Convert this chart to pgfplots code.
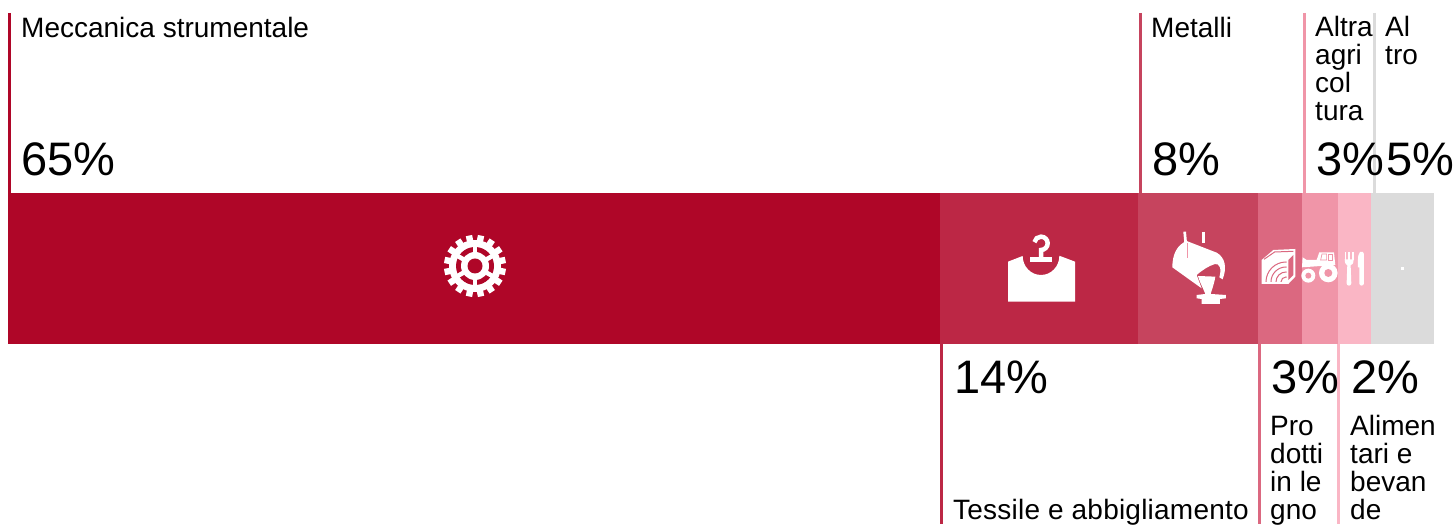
\documentclass[border=0pt]{standalone}
\usepackage{pgfplots}
\pgfplotsset{compat=1.18}
\usepackage{fontspec}
\setmainfont{Liberation Sans}
\definecolor{c1}{HTML}{AF0628}
\definecolor{c2}{HTML}{BC2745}
\definecolor{c3}{HTML}{C6445E}
\definecolor{c4}{HTML}{DB6880}
\definecolor{c5}{HTML}{F095A8}
\definecolor{c6}{HTML}{FAB6C5}
\definecolor{c7}{HTML}{DBDBDB}
\newcommand{\pct}[3]{\node[anchor=base west,inner sep=0pt,font=\fontsize{47}{47}\selectfont] at (axis cs:#1,#2) {#3};}
\newcommand{\lab}[3]{\node[anchor=base west,inner sep=0pt,align=left,font=\fontsize{28}{28}\selectfont] at (axis cs:#1,#2) {#3};}
\begin{document}
\begin{tikzpicture}[x=1pt,y=1pt]
\path[use as bounding box] (0,0) rectangle (1455,526);
\begin{axis}[at={(0,0)},anchor=south west,scale only axis,width=1455pt,height=526pt,hide axis,
  xbar stacked,bar width=151pt,xmin=-0.561,xmax=101.47,ymin=0,ymax=526,y dir=reverse]
\addplot[fill=c1,draw=none] coordinates {(65.36,268.5)};
\addplot[fill=c2,draw=none] coordinates {(13.88,268.5)};
\addplot[fill=c3,draw=none] coordinates {(8.42,268.5)};
\addplot[fill=c4,draw=none] coordinates {(3.05,268.5)};
\addplot[fill=c5,draw=none] coordinates {(2.52,268.5)};
\addplot[fill=c6,draw=none] coordinates {(2.38,268.5)};
\addplot[fill=c7,draw=none] coordinates {(4.39,268.5)};
\end{axis}
\begin{axis}[at={(0,0)},anchor=south west,scale only axis,width=1455pt,height=526pt,hide axis,
  xmin=0,xmax=1455,ymin=0,ymax=526,y dir=reverse,clip=false]
\addplot[c1,line width=3pt] coordinates {(9.5,13)(9.5,193)};
\addplot[c3,line width=3pt] coordinates {(1140.5,13)(1140.5,193)};
\addplot[c5,line width=3pt] coordinates {(1304.5,13)(1304.5,193)};
\addplot[c7,line width=3pt] coordinates {(1374.5,13)(1374.5,193)};
\addplot[c2,line width=3pt] coordinates {(941.5,344)(941.5,524)};
\addplot[c4,line width=3pt] coordinates {(1259.5,344)(1259.5,524)};
\addplot[c6,line width=3pt] coordinates {(1338.5,344)(1338.5,524)};
\lab{21}{38}{Meccanica strumentale}
\pct{21}{176}{65\%}
\lab{1151}{38}{Metalli}
\pct{1152}{176}{8\%}
\lab{1315}{121}{Altra\\agri\\col\\tura}
\pct{1316}{176}{3\%}
\lab{1385}{65}{Al\\tro}
\pct{1386}{176}{5\%}
\pct{954}{393}{14\%}
\lab{953}{519}{\addfontfeature{LetterSpace=0.8}Tessile e abbigliamento}
\pct{1271}{393}{3\%}
\lab{1270}{519}{Pro\\dotti\\in le\\gno}
\pct{1351}{393}{2\%}
\lab{1350}{519}{Alimen\\tari e\\bevan\\de}
\end{axis}
% gear
\begin{scope}[shift={(475,260)}]
\foreach \a in {0,22.5,...,337.5}{\fill[white,rotate=\a+11.25] (-3.2,0) rectangle (3.2,31);}
\fill[white] (0,0) circle (26);
\fill[c1] (0,0) circle (19);
\foreach \a in {30,90,150}{\draw[white,line width=4.5pt] (\a:-20)--(\a:20);}
\fill[white] (0,0) circle (14);
\fill[c1] (0,0) circle (7.5);
\end{scope}
% icons, in coordinates of a 3x magnified crop
\begin{scope}[shift={(930,346)},x=0.3333pt,y=-0.3333pt]
% shirt on hanger
\fill[white] (234,245)--(278,228) arc[start angle=180,end angle=0,x radius=55,y radius=57]--(390,228)--(435,245)--(435,365)--(234,365)--cycle;
\fill[white] (300,232) rectangle (366,247);
\draw[white,line width=4.5pt] (333,240)--(333,210) arc[start angle=90,end angle=-170,radius=20];
% ladle
\draw[white,line width=2.7pt] (764,155)--(768,200);
\draw[white,line width=2.7pt] (820,155)--(820,190);
\fill[white] (727,262) .. controls (727,225) and (740,195) .. (770,183)--(860,218) .. controls (885,232) and (892,262) .. (878,298)--(868,292) .. controls (876,265) and (868,250) .. (855,252) .. controls (835,258) and (815,272) .. (800,285)--(815,325)--cycle;
\fill[c5] (771,190) rectangle (775,235);
\fill[white] (804,288)--(856,290) .. controls (852,315) and (845,330) .. (842,342)--(888,345)--(888,355)--(870,357)--(870,372)--(815,372)--(815,357)--(800,355)--(800,345)--(826,342) .. controls (820,325) and (810,310) .. (804,288)--cycle;
% wood
\fill[white] (995,240)--(1030,210)--(1096,207)--(1096,290)--(1075,312)--(995,312)--cycle;
\begin{scope}
\clip (1002,245) rectangle (1070,306);
\foreach \r in {15,30,45,60}{\draw[c4,line width=1pt] (1068,306) circle (\r);}
\end{scope}
\fill[c4] (1075,240)--(1090,225)--(1090,285)--(1075,300)--cycle;
\draw[c4,line width=1pt] (1002,238)--(1034,216)--(1090,214);
% tractor
\fill[white] (1118,232)--(1130,240)--(1160,240)--(1168,217)--(1212,217)--(1216,255)--(1116,262)--cycle;
\draw[c5,line width=0.7pt] (1176,222)--(1172,240)--(1190,240)--(1190,222)--cycle;
\draw[c5,line width=0.7pt] (1194,222) rectangle (1208,240);
\fill[white] (1135,287) circle (21);
\fill[c5] (1135,287) circle (9);
\fill[white] (1195,279) circle (28);
\fill[c5] (1195,279) circle (12);
% fork and knife
\fill[white] (1244,216) rectangle (1249,240);
\fill[white] (1255,216) rectangle (1260,240);
\fill[white] (1266,216) rectangle (1271,240);
\fill[white] (1244,238) .. controls (1244,252) and (1250,254) .. (1252,256)--(1250,310) arc[start angle=180,end angle=0,radius=7]--(1262,256) .. controls (1266,254) and (1271,252) .. (1271,238)--cycle;
\fill[white] (1290,216) .. controls (1298,214) and (1302,216) .. (1302,222)--(1302,310) arc[start angle=0,end angle=180,radius=7]--(1288,262)--(1284,262)--(1284,240) .. controls (1284,228) and (1286,222) .. (1290,216)--cycle;
% dot of the last segment
\fill[white] (1414,261) rectangle (1422,270);
\end{scope}
\end{tikzpicture}
\end{document}
